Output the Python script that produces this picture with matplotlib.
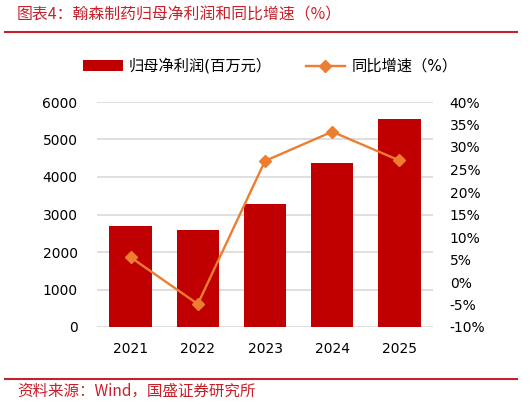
import matplotlib
matplotlib.use("Agg")
import matplotlib.pyplot as plt
from matplotlib.lines import Line2D
from matplotlib.patches import Patch

plt.rcParams["font.family"] = ["DejaVu Sans", "Noto Sans CJK SC"]

years = ["2021", "2022", "2023", "2024", "2025"]
net_profit = [2690, 2583, 3276, 4375, 5539]
growth = [5.5, -4.9, 26.9, 33.4, 27.0]

left_ticks = [0, 1000, 2000, 3000, 4000, 5000, 6000]
right_ticks = [-10, -5, 0, 5, 10, 15, 20, 25, 30, 35, 40]

BAR_COLOR = "#c00000"
LINE_COLOR = "#ed7d31"
RED = "#c8202a"

fig = plt.figure(figsize=(5.31, 4.04), dpi=100)
ax = fig.add_axes([97 / 531, 1 - 327 / 404, 336 / 531, 225 / 404])

x = list(range(len(years)))
ax.bar(x, net_profit, width=0.63, color=BAR_COLOR, zorder=3)
ax.set_xlim(-0.5, 4.5)
ax.set_ylim(0, 6000)
ax.set_yticks(left_ticks)
ax.set_yticklabels([str(t) for t in left_ticks])
ax.set_xticks(x)
ax.set_xticklabels(years)
ax.yaxis.grid(True, color="#d9d9d9", linewidth=1.2, zorder=0)
ax.set_axisbelow(True)
for s in ax.spines.values():
    s.set_visible(False)
ax.tick_params(axis="y", length=0, pad=14, labelsize=10, colors="#000000")
ax.tick_params(axis="x", length=0, pad=11, labelsize=10, colors="#000000")

ax2 = ax.twinx()
ax2.plot(x, growth, color=LINE_COLOR, linewidth=1.7, marker="D",
         markersize=6.5, zorder=4)
ax2.set_ylim(-10, 40)
ax2.set_yticks(right_ticks)
ax2.set_yticklabels([f"{t}%" for t in right_ticks])
for s in ax2.spines.values():
    s.set_visible(False)
ax2.tick_params(axis="y", length=0, pad=12, labelsize=10)

# legend
handles = [
    Patch(facecolor=BAR_COLOR, edgecolor="none"),
    Line2D([], [], color=LINE_COLOR, linewidth=1.7, marker="D", markersize=6.5),
]
labels = ["归母净利润(百万元）", "同比增速（%）"]
fig.legend(handles, labels, loc="center left",
           bbox_to_anchor=(83 / 531, 1 - 66 / 404), ncol=2, frameon=False,
           fontsize=11, handlelength=2.6, handletextpad=0.4,
           columnspacing=2.2, borderpad=0, borderaxespad=0)

# header / footer
fig.text(17 / 531, 1 - 15 / 404, "图表4：翰森制药归母净利润和同比增速（%）",
         color=RED, fontsize=11.4, va="center", ha="left",
         family=["Noto Sans CJK SC", "DejaVu Sans"], style="italic")
fig.add_artist(Line2D([5 / 531, 517 / 531], [1 - 32 / 404, 1 - 32 / 404],
                      color=RED, linewidth=1.5))
fig.add_artist(Line2D([5 / 531, 517 / 531], [1 - 379 / 404, 1 - 379 / 404],
                      color=RED, linewidth=1.5))
fig.text(17 / 531, 1 - 391 / 404, "资料来源：Wind，国盛证券研究所",
         color=RED, fontsize=11.2, va="center", ha="left",
         family=["Noto Sans CJK SC", "DejaVu Sans"], style="italic")

fig.savefig("out.png", dpi=100)
